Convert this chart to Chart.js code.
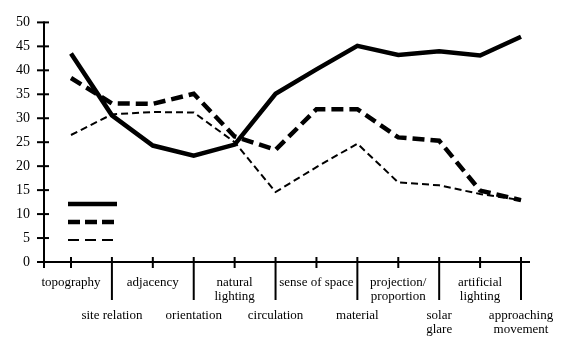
<!DOCTYPE html>
<html>
<head>
<meta charset="utf-8">
<script src="https://cdn.jsdelivr.net/npm/chart.js@4.4.0/dist/chart.umd.min.js"></script>
<style>
  html, body { margin: 0; padding: 0; background: #fff; }
  #contenedor { width: 569px; height: 341px; }
</style>
</head>
<body>
<div id="contenedor"><canvas id="grafico"></canvas></div>
<script>
// --- Datos ---
const categorias = [
    ["topography"], ["site relation"], ["adjacency"], ["orientation"],
    ["natural", "lighting"], ["circulation"], ["sense of space"], ["material"],
    ["projection/", "proportion"], ["solar", "glare"], ["artificial", "lighting"], ["approaching", "movement"]
];
const serieContinua = [43.5, 30.6, 24.3, 22.2, 24.5, 35.1, 40.2, 45.1, 43.2, 44, 43.1, 47];
const serieGruesa   = [38.4, 33.1, 33, 35.1, 26.2, 23.4, 31.9, 31.9, 26, 25.3, 14.9, 12.9];
const serieFina     = [26.5, 30.8, 31.3, 31.2, 25, 14.6, 19.8, 24.7, 16.6, 16, 14.2, 12.9];
const ticksY = [0, 5, 10, 15, 20, 25, 30, 35, 40, 45, 50];

const FUENTE = '"Liberation Serif", "DejaVu Serif", serif';

const aPuntos = serie => serie.map((v, i) => ({ x: i, y: v }));

// --- Estilos de linea ---
const estilos = [
    { data: serieContinua, ancho: 4.5, trazo: [], trazoLeyenda: [] },
    { data: serieGruesa, ancho: 4.5, trazo: [12, 6], trazoLeyenda: [12, 5] },
    { data: serieFina, ancho: 2, trazo: [7, 4], trazoLeyenda: [11, 6] }
];

// --- Ejes, etiquetas y leyenda dibujados a mano ---
const ejesPlugin = {
    id: 'ejes',
    afterDraw(chart) {
        const { ctx, chartArea: a, scales: { x, y } } = chart;
        const linea = (x1, y1, x2, y2) => {
            ctx.beginPath(); ctx.moveTo(x1, y1); ctx.lineTo(x2, y2); ctx.stroke();
        };
        ctx.save();
        ctx.strokeStyle = '#000';
        ctx.lineWidth = 2;
        ctx.setLineDash([]);

        // eje Y
        linea(a.left, y.getPixelForValue(50) - 1, a.left, a.bottom + 6);
        ticksY.forEach(v => {
            const py = y.getPixelForValue(v);
            linea(a.left - 7, py, a.left + 5, py);
        });

        // eje X
        linea(a.left - 7, a.bottom, a.right, a.bottom);
        categorias.forEach((c, i) => {
            const px = x.getPixelForValue(i);
            linea(px, a.bottom - 5, px, i % 2 ? a.bottom + 38 : a.bottom + 6);
        });

        // etiquetas X en dos filas
        ctx.fillStyle = '#000';
        ctx.font = '13px ' + FUENTE;
        ctx.textAlign = 'center';
        ctx.textBaseline = 'middle';
        categorias.forEach((c, i) => {
            const px = x.getPixelForValue(i);
            const y0 = i % 2 ? a.bottom + 54 : a.bottom + 21;
            c.forEach((t, k) => ctx.fillText(t, px, y0 + k * 14));
        });

        // leyenda sin texto
        ctx.lineCap = 'butt';
        estilos.forEach((e, k) => {
            ctx.lineWidth = e.ancho;
            ctx.setLineDash(e.trazoLeyenda);
            const py = a.bottom - 58 + k * 18;
            linea(a.left + 24, py, a.left + 73, py);
        });
        ctx.restore();
    }
};

new Chart(document.getElementById('grafico'), {
    type: 'line',
    data: {
        datasets: estilos.map(e => ({
            data: aPuntos(e.data),
            borderColor: '#000',
            borderWidth: e.ancho,
            borderDash: e.trazo,
            pointRadius: 0,
            tension: 0,
            fill: false
        }))
    },
    options: {
        responsive: true,
        maintainAspectRatio: false,
        animation: false,
        layout: { padding: { left: 0, top: 14, right: 39, bottom: 79 } },
        plugins: { legend: { display: false }, tooltip: { enabled: false } },
        scales: {
            x: { type: 'linear', min: -0.66, max: 11.22, display: false },
            y: {
                min: 0, max: 50,
                afterFit: s => { s.width = 44; },
                ticks: { stepSize: 5, color: '#000', padding: 14, font: { family: FUENTE, size: 14 } },
                grid: { display: false, drawTicks: false },
                border: { display: false }
            }
        }
    },
    plugins: [ejesPlugin]
});
</script>
</body>
</html>
